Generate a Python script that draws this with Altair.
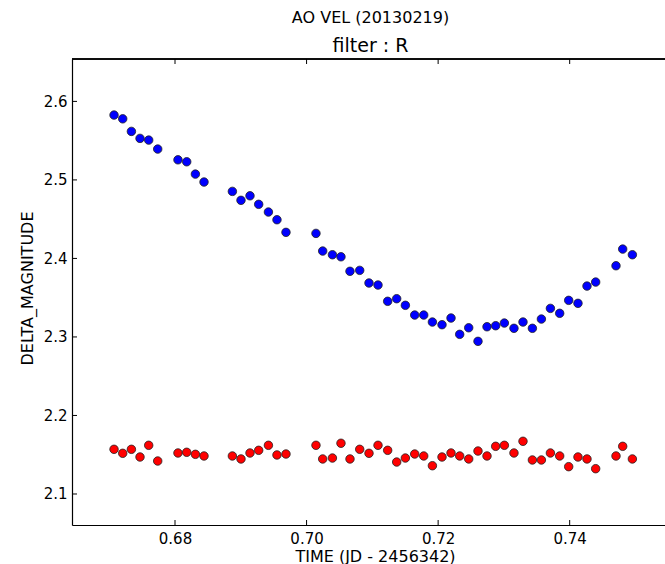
import altair as alt
import pandas as pd

# ---- data ----
time = [0.67073, 0.67205, 0.67337, 0.67468, 0.67600, 0.67737, 0.68045, 0.68178, 0.68310, 0.68441,
        0.68872, 0.69003, 0.69140, 0.69272, 0.69420, 0.69550, 0.69687, 0.70143, 0.70245, 0.70393,
        0.70523, 0.70660, 0.70808, 0.70949, 0.71086, 0.71233, 0.71370, 0.71502, 0.71644, 0.71781,
        0.71913, 0.72059, 0.72196, 0.72328, 0.72465, 0.72606, 0.72743, 0.72875, 0.73007, 0.73153,
        0.73290, 0.73433, 0.73570, 0.73707, 0.73848, 0.73985, 0.74126, 0.74263, 0.74395, 0.74704,
        0.74806, 0.74953]

target = [2.5826, 2.5778, 2.5618, 2.5529, 2.5507, 2.5393, 2.5256, 2.5231, 2.5074, 2.4973,
          2.4854, 2.4740, 2.4798, 2.4689, 2.4591, 2.4493, 2.4332, 2.4319, 2.4094, 2.4047,
          2.4021, 2.3836, 2.3848, 2.3687, 2.3661, 2.3454, 2.3487, 2.3403, 2.3279, 2.3279,
          2.3190, 2.3156, 2.3241, 2.3033, 2.3117, 2.2944, 2.3130, 2.3143, 2.3177, 2.3110,
          2.3190, 2.3110, 2.3228, 2.3364, 2.3301, 2.3466, 2.3428, 2.3648, 2.3699, 2.3907,
          2.4119, 2.4047]

check = [2.1569, 2.1518, 2.1569, 2.1471, 2.1620, 2.1420, 2.1522, 2.1531, 2.1505, 2.1484,
         2.1484, 2.1446, 2.1522, 2.1556, 2.1620, 2.1497, 2.1509, 2.1620, 2.1446, 2.1458,
         2.1646, 2.1446, 2.1569, 2.1518, 2.1620, 2.1556, 2.1407, 2.1458, 2.1509, 2.1484,
         2.1360, 2.1471, 2.1522, 2.1484, 2.1446, 2.1547, 2.1484, 2.1607, 2.1620, 2.1522,
         2.1671, 2.1433, 2.1433, 2.1522, 2.1484, 2.1348, 2.1471, 2.1446, 2.1322, 2.1484,
         2.1607, 2.1446]

x_ticks = [0.68, 0.70, 0.72, 0.74]
y_ticks = [2.1, 2.2, 2.3, 2.4, 2.5, 2.6]
x_domain = [0.66434, 0.75449]
y_domain = [2.0605, 2.654]

W, H = 593, 466
FONT = "DejaVu Sans"

df = pd.DataFrame({"time": time * 2,
                   "mag": target + check,
                   "series": ["target"] * len(time) + ["check"] * len(time)})
xt = pd.DataFrame({"v": x_ticks})
yt = pd.DataFrame({"v": y_ticks})

xscale = alt.Scale(domain=x_domain, nice=False, zero=False)
yscale = alt.Scale(domain=y_domain, nice=False, zero=False)

points = alt.Chart(df).mark_circle(size=72, opacity=1, stroke="#222222", strokeWidth=0.8).encode(
    x=alt.X("time:Q", scale=xscale,
            axis=alt.Axis(values=x_ticks, format=".2f", ticks=False, tickSize=0, grid=False,
                          domainColor="black", domainWidth=1.2, labelPadding=6,
                          labelFontSize=15, labelFont=FONT, labelColor="black",
                          title="TIME (JD - 2456342)", titleFont=FONT, titleFontSize=16,
                          titleFontWeight="normal", titleColor="black",
                          titleX=303, titleY=36, titleBaseline="alphabetic", titleAlign="center")),
    y=alt.Y("mag:Q", scale=yscale,
            axis=alt.Axis(values=y_ticks, format=".1f", ticks=False, tickSize=0, grid=False,
                          domainColor="black", domainWidth=1.2, labelPadding=5,
                          labelFontSize=15, labelFont=FONT, labelColor="black",
                          title="DELTA_MAGNITUDE", titleFont=FONT, titleFontSize=16,
                          titleFontWeight="normal", titleColor="black",
                          titleX=-45, titleY=229, titleAngle=270,
                          titleAlign="center", titleBaseline="middle")),
    color=alt.Color("series:N", scale=alt.Scale(domain=["target", "check"],
                                                range=["#0000ff", "#ff0000"]), legend=None),
)

tick_style = dict(color="black", strokeWidth=1)
bottom_ticks = alt.Chart(xt).mark_rule(**tick_style).encode(
    x=alt.X("v:Q", scale=xscale), y=alt.value(H), y2=alt.value(H - 5))
top_ticks = alt.Chart(xt).mark_rule(**tick_style).encode(
    x=alt.X("v:Q", scale=xscale), y=alt.value(0), y2=alt.value(5))
left_ticks = alt.Chart(yt).mark_rule(**tick_style).encode(
    y=alt.Y("v:Q", scale=yscale), x=alt.value(0), x2=alt.value(5))
top_spine = alt.Chart(xt).mark_rule(color="black", strokeWidth=1.2).encode(
    x=alt.value(0), x2=alt.value(W), y=alt.value(0))

chart = alt.layer(points, bottom_ticks, top_ticks, left_ticks, top_spine).properties(
    width=W, height=H,
    title=alt.TitleParams(text="AO VEL (20130219)", subtitle="filter : R",
                          font=FONT, fontSize=16, fontWeight="normal", color="black",
                          subtitleFont=FONT, subtitleFontSize=19, subtitleColor="black",
                          subtitlePadding=11, offset=2, anchor="middle", dx=2),
    autosize=alt.AutoSizeParams(type="none"),
    padding={"left": 72, "top": 59, "right": 0, "bottom": 39},
).configure_view(stroke=None).configure(background="white")

chart.save("out.html", embed_options={"renderer": "svg", "actions": False})
